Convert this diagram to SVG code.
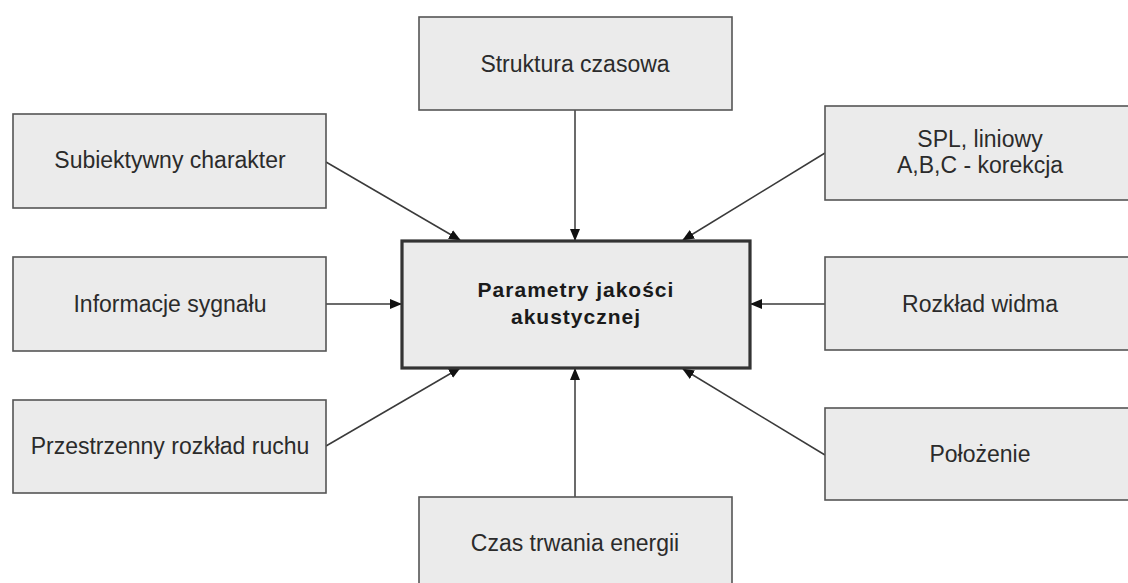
<svg xmlns="http://www.w3.org/2000/svg" width="1128" height="583" viewBox="0 0 1128 583">
<defs>
<style>
.box{fill:#ebebeb;stroke:#555;stroke-width:1.6}
.main{fill:#ebebeb;stroke:#333;stroke-width:3.2}
.t{font-family:"Liberation Sans",Arial,sans-serif;font-size:23px;fill:#2b2b2b;text-anchor:middle}
.b{font-family:"Liberation Sans",Arial,sans-serif;font-size:21px;font-weight:bold;fill:#1a1a1a;text-anchor:middle;letter-spacing:1px}
.c{stroke:#3a3a3a;stroke-width:1.5;fill:none;marker-end:url(#ah)}
</style>
<marker id="ah" markerUnits="userSpaceOnUse" markerWidth="12" markerHeight="10" refX="11" refY="5" orient="auto">
<path d="M0,0 L12,5 L0,10 Z" fill="#111"/>
</marker>
</defs>
<rect width="1128" height="583" fill="#fff"/>
<g id="connectors">
<line class="c" x1="326" y1="162" x2="460" y2="240"/>
<line class="c" x1="326" y1="304" x2="401" y2="304"/>
<line class="c" x1="326" y1="446" x2="460" y2="368"/>
<line class="c" x1="575" y1="110" x2="575" y2="240"/>
<line class="c" x1="575" y1="497" x2="575" y2="369"/>
<line class="c" x1="825" y1="153" x2="683" y2="240"/>
<line class="c" x1="825" y1="304" x2="751" y2="304"/>
<line class="c" x1="825" y1="455" x2="683" y2="369"/>
</g>
<g id="main">
<rect class="main" x="402" y="241" width="348" height="127"/>
<text class="b" x="576" y="297">Parametry jakości</text>
<text class="b" x="576" y="324">akustycznej</text>
</g>
<g id="struktura">
<rect class="box" x="419" y="17" width="313" height="93"/>
<text class="t" x="575" y="72">Struktura czasowa</text>
</g>
<g id="subiektywny">
<rect class="box" x="13" y="114" width="313" height="94"/>
<text class="t" x="170" y="168">Subiektywny charakter</text>
</g>
<g id="informacje">
<rect class="box" x="13" y="257" width="313" height="94"/>
<text class="t" x="170" y="312">Informacje sygnału</text>
</g>
<g id="przestrzenny">
<rect class="box" x="13" y="400" width="313" height="93"/>
<text class="t" x="170" y="454">Przestrzenny rozkład ruchu</text>
</g>
<g id="spl">
<rect class="box" x="825" y="106" width="313" height="94"/>
<text class="t" x="980" y="147">SPL, liniowy</text>
<text class="t" x="980" y="173">A,B,C - korekcja</text>
</g>
<g id="rozklad">
<rect class="box" x="825" y="257" width="313" height="93"/>
<text class="t" x="980" y="312">Rozkład widma</text>
</g>
<g id="polozenie">
<rect class="box" x="825" y="408" width="313" height="92"/>
<text class="t" x="980" y="462">Położenie</text>
</g>
<g id="czas">
<rect class="box" x="419" y="497" width="313" height="100"/>
<text class="t" x="575" y="551">Czas trwania energii</text>
</g>
</svg>
